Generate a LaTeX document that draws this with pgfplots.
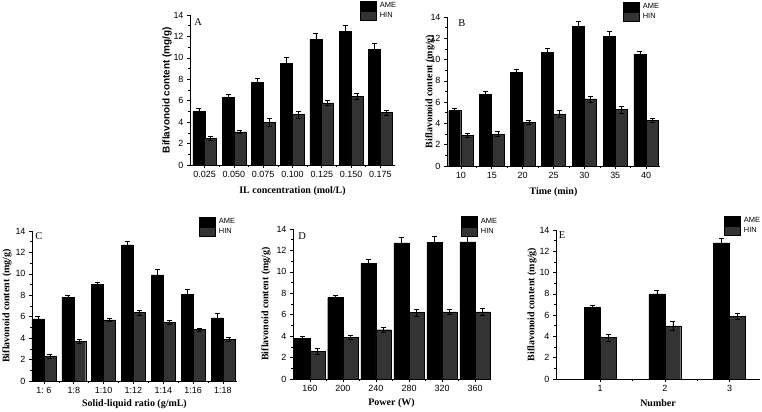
\documentclass[border=0pt]{standalone}
\usepackage{fontspec}
\setmainfont{Liberation Serif}
\setsansfont{Liberation Sans}
\usepackage{pgfplots}
\pgfplotsset{compat=1.18}
\definecolor{hin}{gray}{0.2}
\pgfplotsset{
 panel/.style={
  scale only axis,
  axis x line*=bottom, axis y line*=left,
  axis line style={-, black, line width=0.6pt},
  ymin=0, ymax=14, ytick={0,2,...,14}, minor ytick={1,3,...,13},
  tick align=outside, major tick length=3bp, minor tick length=1.6bp,
  tick style={black, line width=0.6pt},
  /pgf/number format/assume math mode=true,
  tick label style={font=\sffamily\fontsize{9}{10}\selectfont},
  xlabel style={font=\bfseries\fontsize{10}{12}\selectfont, anchor=center},
  ylabel style={font=\bfseries\fontsize{10}{12}\selectfont, anchor=center},
  legend image code/.code={\draw[##1] (0bp,-4.6bp) rectangle (16bp,4.6bp);},
  legend style={draw=none, fill=none, inner sep=0pt, outer sep=0pt, row sep=0pt, column sep=1.5bp,
    font=\sffamily\fontsize{7.5}{8}\selectfont, anchor=north west, cells={anchor=west}},
  clip=false,
 },
 ame/.style={ybar, bar shift=0pt, fill=black, draw=black, line width=0.4pt,
   error bars/.cd, y dir=both, y explicit, error bar style={black, line width=0.5pt},
   error mark options={rotate=90, mark size=2.5bp, black, line width=0.5pt}},
 hin/.style={ybar, bar shift=0pt, fill=hin, draw=black, line width=0.4pt,
   error bars/.cd, y dir=both, y explicit, error bar style={black, line width=0.5pt},
   error mark options={rotate=90, mark size=2.5bp, black, line width=0.5pt}},
}
\begin{document}
\begin{tikzpicture}
\path[use as bounding box] (0,0) rectangle (762bp,412bp);
% ---------- A ----------
\begin{axis}[panel, at={(190bp,247bp)}, anchor=origin, width=205bp, height=150bp,
  xmin=0.5, xmax=7.5, bar width=0.41,
  xtick={1,...,7}, xticklabels={0.025,0.050,0.075,0.100,0.125,0.150,0.175},
  minor xtick={1.5,2.5,...,6.5},
  xlabel={IL concentration (mol/L)}, ylabel={Biflavonoid content (mg/g)},
  xlabel style={at={([yshift=-26bp]axis description cs:0.5,0)}},
  ylabel style={at={([xshift=-23bp]axis description cs:0,0.5)}, font=\sffamily\bfseries\fontsize{10}{12}\selectfont},
  legend style={at={(axis description cs:0.829,1.10)}}]
\addplot[ame] coordinates {(0.8,5.0)+-(0,0.3) (1.8,6.3)+-(0,0.3) (2.8,7.7)+-(0,0.4) (3.8,9.5)+-(0,0.55) (4.8,11.7)+-(0,0.55) (5.8,12.5)+-(0,0.5) (6.8,10.8)+-(0,0.55)};
\addplot[hin] coordinates {(1.2,2.5)+-(0,0.17) (2.2,3.1)+-(0,0.15) (3.2,4.0)+-(0,0.35) (4.2,4.7)+-(0,0.3) (5.2,5.8)+-(0,0.25) (6.2,6.4)+-(0,0.3) (7.2,4.9)+-(0,0.22)};
\legend{AME,HIN}
\node[font=\rmfamily\fontsize{10.5}{12}\selectfont] at (rel axis cs:0.04,0.953) {A};
\end{axis}
% ---------- B ----------
\begin{axis}[panel, at={(447bp,246bp)}, anchor=origin, width=213bp, height=149bp,
  xmin=0.55, xmax=7.45, bar width=0.39,
  xtick={1,...,7}, xticklabels={10,15,20,25,30,35,40},
  minor xtick={1.5,2.5,...,6.5},
  xlabel={Time (min)}, ylabel={Biflavonoid content (mg/g)},
  xlabel style={at={([yshift=-26bp]axis description cs:0.5,0)}},
  ylabel style={at={([xshift=-17bp]axis description cs:0,0.5)}},
  legend style={at={(axis description cs:0.826,1.107)}}]
\addplot[ame] coordinates {(0.8,5.2)+-(0,0.25) (1.8,6.7)+-(0,0.3) (2.8,8.8)+-(0,0.25) (3.8,10.7)+-(0,0.4) (4.8,13.1)+-(0,0.5) (5.8,12.2)+-(0,0.47) (6.8,10.5)+-(0,0.3)};
\addplot[hin] coordinates {(1.2,2.9)+-(0,0.16) (2.2,3.0)+-(0,0.25) (3.2,4.1)+-(0,0.22) (4.2,4.9)+-(0,0.35) (5.2,6.3)+-(0,0.28) (6.2,5.3)+-(0,0.3) (7.2,4.3)+-(0,0.2)};
\legend{AME,HIN}
\node[font=\rmfamily\fontsize{10.5}{12}\selectfont] at (rel axis cs:0.07,0.96) {B};
\end{axis}
% ---------- C ----------
\begin{axis}[panel, at={(32bp,31bp)}, anchor=origin, width=205bp, height=150bp,
  xmin=0.6, xmax=7.47, bar width=0.4,
  xtick={1,...,7}, xticklabels={1:~6,1:8,1:10,1:12,1:14,1:16,1:18},
  minor xtick={1.5,2.5,...,6.5},
  xlabel={Solid-liquid ratio (g/mL)}, ylabel={Biflavonoid content (mg/g)},
  xlabel style={at={([yshift=-23bp]axis description cs:0.5,0)}},
  ylabel style={at={([xshift=-25bp]axis description cs:0,0.5)}},
  legend style={at={(axis description cs:0.815,1.10)}}]
\addplot[ame] coordinates {(0.8,5.8)+-(0,0.22) (1.8,7.8)+-(0,0.25) (2.8,9.0)+-(0,0.22) (3.8,12.7)+-(0,0.37) (4.8,9.9)+-(0,0.5) (5.8,8.1)+-(0,0.44) (6.8,5.9)+-(0,0.47)};
\addplot[hin] coordinates {(1.2,2.3)+-(0,0.16) (2.2,3.7)+-(0,0.19) (3.2,5.7)+-(0,0.16) (4.2,6.4)+-(0,0.22) (5.2,5.5)+-(0,0.16) (6.2,4.8)+-(0,0.13) (7.2,3.9)+-(0,0.15)};
\legend{AME,HIN}
\node[font=\rmfamily\fontsize{10.5}{12}\selectfont] at (rel axis cs:0.034,0.967) {C};
\end{axis}
% ---------- D ----------
\begin{axis}[panel, at={(293bp,33bp)}, anchor=origin, width=197bp, height=150bp,
  xmin=0.49, xmax=6.45, bar width=0.46,
  xtick={1,...,6}, xticklabels={160,200,240,280,320,360},
  minor xtick={1.5,2.5,...,5.5},
  xlabel={Power (W)}, ylabel={Biflavonoid content (mg/g)},
  xlabel style={at={([yshift=-24bp]axis description cs:0.5,0)}},
  ylabel style={at={([xshift=-27bp]axis description cs:0,0.5)}},
  legend style={at={(axis description cs:0.853,1.087)}}]
\addplot[ame] coordinates {(0.77,3.8)+-(0,0.22) (1.77,7.6)+-(0,0.25) (2.77,10.8)+-(0,0.37) (3.77,12.7)+-(0,0.56) (4.77,12.75)+-(0,0.56) (5.77,12.8)+-(0,0.5)};
\addplot[hin] coordinates {(1.23,2.6)+-(0,0.25) (2.23,3.9)+-(0,0.22) (3.23,4.6)+-(0,0.22) (4.23,6.2)+-(0,0.31) (5.23,6.27)+-(0,0.25) (6.23,6.27)+-(0,0.31)};
\legend{AME,HIN}
\node[font=\rmfamily\fontsize{10.5}{12}\selectfont] at (rel axis cs:0.046,0.953) {D};
\end{axis}
% ---------- E ----------
\begin{axis}[panel, at={(556bp,33bp)}, anchor=origin, width=204bp, height=149bp,
  xmin=0.32, xmax=3.47, bar width=0.245,
  xtick={1,2,3}, xticklabels={1,2,3},
  minor xtick={1.5,2.5},
  xlabel={Number}, ylabel={Biflavonoid content (mg/g)},
  xlabel style={at={([yshift=-24bp]axis description cs:0.5,0)}},
  ylabel style={at={([xshift=-24bp]axis description cs:0,0.5)}},
  legend style={at={(axis description cs:0.824,1.10)}}]
\addplot[ame] coordinates {(0.877,6.7)+-(0,0.19) (1.877,8.0)+-(0,0.31) (2.877,12.8)+-(0,0.4)};
\addplot[hin] coordinates {(1.123,3.9)+-(0,0.35) (2.123,5.0)+-(0,0.4) (3.123,5.9)+-(0,0.31)};
\legend{AME,HIN}
\node[font=\rmfamily\fontsize{10.5}{12}\selectfont] at (rel axis cs:0.03,0.966) {E};
\end{axis}
\end{tikzpicture}
\end{document}
